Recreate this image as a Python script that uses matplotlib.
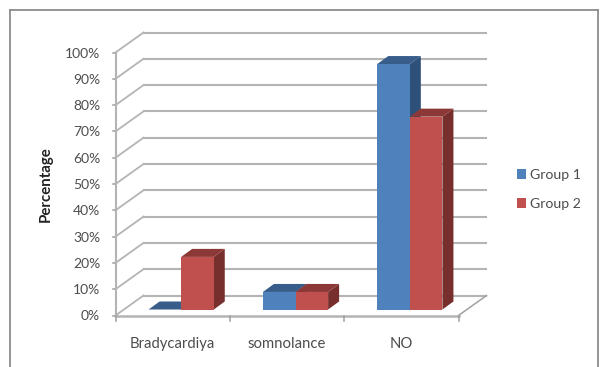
import matplotlib
matplotlib.use("Agg")
import matplotlib.pyplot as plt
from matplotlib.patches import Polygon, Rectangle
from matplotlib.lines import Line2D

plt.rcParams['font.family'] = ['Lato', 'DejaVu Sans']

categories = ["Bradycardiya", "somnolance", "NO"]
group1 = [0, 6.67, 93.33]
group2 = [20, 6.67, 73.33]
percent_ticks = list(range(0, 101, 10))
percent_labels = ["{}%".format(t) for t in percent_ticks]
series_names = ["Group 1", "Group 2"]

W, H = 600, 367
fig = plt.figure(figsize=(W / 100, H / 100), dpi=100)
fig.patch.set_facecolor('white')

# axes box is the front plane of the excel style 3d chart
left, right, top, bottom = 115.5, 458.5, 52.5, 315.5
ax = fig.add_axes([left / W, 1 - bottom / H, (right - left) / W, (bottom - top) / H])
ax.set_xlim(0, 3)
ax.set_ylim(0, 100)
ax.patch.set_visible(False)
for s in ax.spines.values():
    s.set_visible(False)

px_x = 3 / (right - left)
px_y = 100 / (bottom - top)

wall_dx, wall_dy = 28 * px_x, 20 * px_y
bar_dx, bar_dy = 8.5 * px_x, 6 * px_y
depth_dx, depth_dy = 11 * px_x, 8 * px_y
bar_w = 32.6 * px_x

grid_col = '#b4b4b4'
axis_col = '#a0a0a0'

# grid on the back wall and the diagonals on the side wall
for t in percent_ticks:
    ax.plot([wall_dx, 3 + wall_dx], [t + wall_dy, t + wall_dy], color=grid_col, lw=1.5, clip_on=False, zorder=1)
    ax.plot([0, wall_dx], [t, t + wall_dy], color=grid_col, lw=1.3, clip_on=False, zorder=1)
    ax.plot([-3 * px_x, 0], [t, t], color=axis_col, lw=1.1, clip_on=False, zorder=2)
ax.plot([3, 3 + wall_dx], [0, wall_dy], color=axis_col, lw=1.1, clip_on=False, zorder=1)
ax.plot([0, 0], [0, 100], color=grid_col, lw=1.5, clip_on=False, zorder=2)
ax.plot([0, 3], [0, 0], color=grid_col, lw=1.8, clip_on=False, zorder=2)
for i in range(4):
    ax.plot([i, i], [0, -5 * px_y], color=axis_col, lw=1.1, clip_on=False, zorder=2)


def box(x, v, front, side, lid):
    x0 = x
    x1 = x + bar_w
    y0 = bar_dy
    y1 = v + bar_dy
    ax.bar(x0, v, bar_w, bottom=y0, align='edge', color=front, zorder=5, clip_on=False)
    if v > 0:
        ax.add_patch(Polygon([(x1, y0), (x1 + depth_dx, y0 + depth_dy), (x1 + depth_dx, y1 + depth_dy), (x1, y1)],
                             closed=True, fc=side, ec='none', zorder=4, clip_on=False))
    ax.add_patch(Polygon([(x0, y1), (x1, y1), (x1 + depth_dx, y1 + depth_dy), (x0 + depth_dx, y1 + depth_dy)],
                         closed=True, fc=lid, ec='none', zorder=4, clip_on=False))


for i in range(len(categories)):
    start = i + 0.5 + bar_dx - bar_w
    box(start, group1[i], '#4f81bd', '#2f5079', '#385d8a')
    box(start + bar_w, group2[i], '#c0504d', '#772f2d', '#8c3836')

ax.set_xticks([i + 0.5 for i in range(3)])
ax.set_xticklabels(categories)
ax.set_yticks(percent_ticks)
ax.set_yticklabels(percent_labels)
ax.tick_params(axis='both', length=0, labelcolor='#4d4d4d')
ax.tick_params(axis='x', pad=15.5, labelsize=10.7)
ax.tick_params(axis='y', pad=11, labelsize=10)
ax.set_ylabel("Percentage", fontsize=10.8, fontweight='bold', color='#222222', labelpad=9)

handles = [Rectangle((0, 0), 1, 1, fc='#4f81bd'), Rectangle((0, 0), 1, 1, fc='#c0504d')]
fig.legend(handles, series_names, loc='center left', bbox_to_anchor=(504 / W, 1 - 189.5 / H), frameon=False,
           fontsize=10.2, labelcolor='#4d4d4d', handlelength=0.65, handleheight=0.7, handletextpad=0.3, labelspacing=1.25)

# outer chart frame, open at the bottom of the crop
for xs, ys in [([9.5, 597.5], [9.5, 9.5]), ([9.5, 9.5], [9.5, 367]), ([597.5, 597.5], [9.5, 367])]:
    fig.add_artist(Line2D([x / W for x in xs], [1 - y / H for y in ys], color='#8c8c8c', lw=1.3))

fig.savefig("out.png", dpi=100)
